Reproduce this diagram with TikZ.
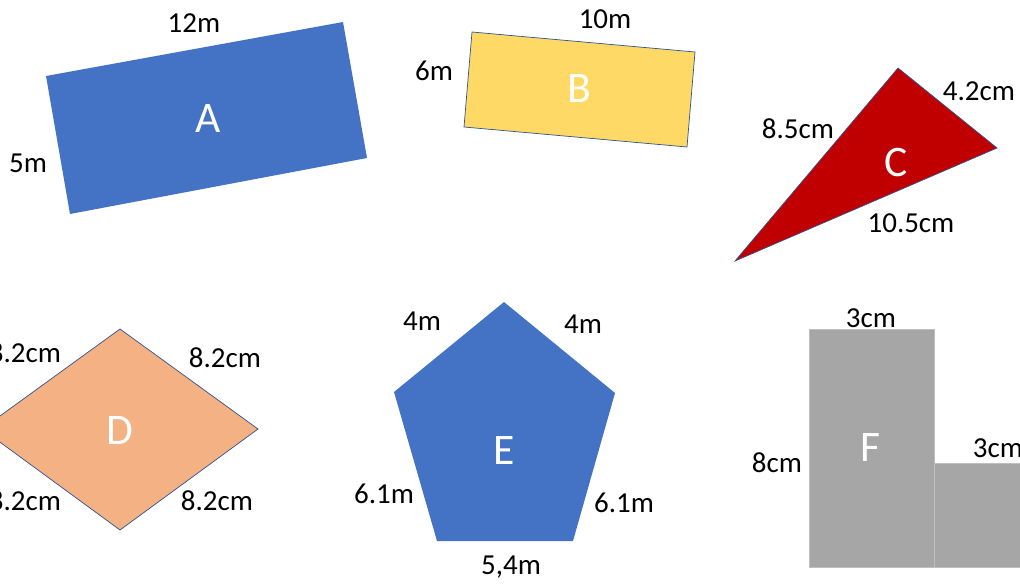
\documentclass[tikz,border=0pt]{standalone}
\usepackage{fontspec}
\setmainfont{Carlito}
\definecolor{shapeblue}{HTML}{4472C4}
\definecolor{shapeyellow}{HTML}{FFD966}
\definecolor{shapered}{HTML}{C00000}
\definecolor{shapeorange}{HTML}{F4B183}
\definecolor{shapegray}{HTML}{A6A6A6}
\definecolor{edgeblue}{HTML}{2F528F}
\definecolor{edgegray}{HTML}{BFBFBF}
\begin{document}
\begin{tikzpicture}
[x=0.025cm, y=-0.025cm, font=\fontsize{20.6}{24}\selectfont]

\tikzstyle{side}=[inner sep=0pt, anchor=base]
\tikzstyle{letter}=[inner sep=0pt, text=white, font=\fontsize{31}{36}\selectfont]
\tikzstyle{outline}=[draw=edgeblue, line width=0.5pt, line join=miter]

\clip (0,0) rectangle (1020,585);

% A
\coordinate (A1) at (46,76);  \coordinate (A2) at (343,22);
\coordinate (A3) at (367,158); \coordinate (A4) at (70,214);
\fill[shapeblue] (A1)--(A2)--(A3)--(A4)--cycle;
\node[letter] (A) at (208,119) {A};
\node[side]   (A12) at (194,32)  {12m};
\node[side]   (A5)  at (28,172)  {5m};

% B
\coordinate (B1) at (472,32);  \coordinate (B2) at (695,52);
\coordinate (B3) at (687,147); \coordinate (B4) at (464,127);
\filldraw[fill=shapeyellow, outline] (B1)--(B2)--(B3)--(B4)--cycle;
\node[letter] (B) at (579,89) {B};
\node[side]   (B10) at (605,28) {10m};
\node[side]   (B6)  at (434,80) {6m};

% C
\coordinate (C1) at (898,68); \coordinate (C2) at (997,148);
\coordinate (C3) at (735,261);
\filldraw[fill=shapered, outline] (C1)--(C2)--(C3)--cycle;
\node[letter] (C) at (896,163) {C};
\node[side]   (C42)  at (979,100) {4.2cm};
\node[side]   (C85)  at (798,138) {8.5cm};
\node[side]   (C105) at (911,232) {10.5cm};

% D
\coordinate (D1) at (120,329); \coordinate (D2) at (258,429);
\coordinate (D3) at (120,530); \coordinate (D4) at (-18,429);
\filldraw[fill=shapeorange, outline] (D1)--(D2)--(D3)--(D4)--cycle;
\node[letter] (D) at (120,431) {D};
\node[side] (Dtl) at (25,362)  {8.2cm};
\node[side] (Dtr) at (225,367) {8.2cm};
\node[side] (Dbl) at (25,510)  {8.2cm};
\node[side] (Dbr) at (217,510) {8.2cm};

% E
\coordinate (E1) at (504,302); \coordinate (E2) at (615,393);
\coordinate (E3) at (573,541); \coordinate (E4) at (437,541);
\coordinate (E5) at (394,392);
\fill[shapeblue] (E1)--(E2)--(E3)--(E4)--(E5)--cycle;
\node[letter] (E) at (504,451) {E};
\node[side] (Etl) at (422,330) {4m};
\node[side] (Etr) at (583,333) {4m};
\node[side] (Ebl) at (384,503) {6.1m};
\node[side] (Ebr) at (624,512) {6.1m};
\node[side] (Eb)  at (511,574) {5,4m};

% F
\filldraw[fill=shapegray, draw=edgegray, line width=0.6pt] (930,463) rectangle (1040,567);
\filldraw[fill=shapegray, draw=edgegray, line width=0.6pt] (809,329) rectangle (934,567);
\node[letter] (F) at (871,448) {F};
\node[side] (Ftop)   at (871,327) {3cm};
\node[side] (Fright) at (998,457) {3cm};
\node[side] (Fleft)  at (777,472) {8cm};
\end{tikzpicture}
\end{document}
